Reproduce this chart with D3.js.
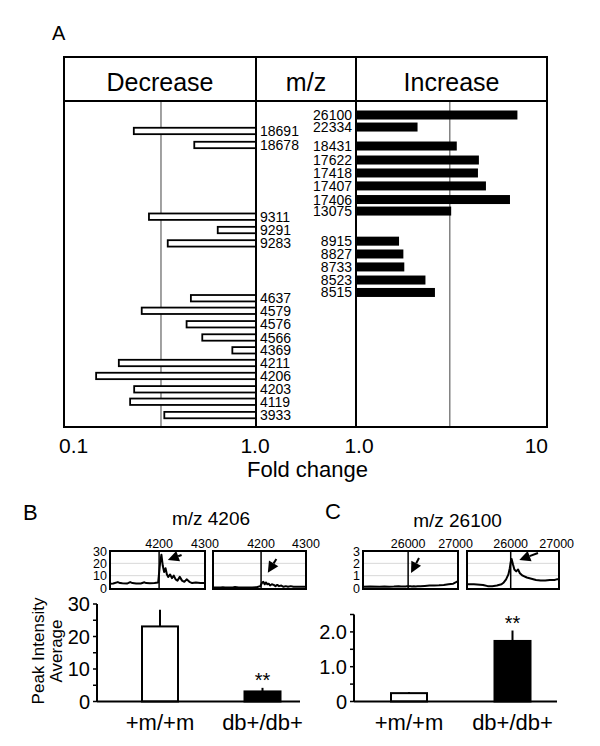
<!DOCTYPE html>
<html><head><meta charset="utf-8">
<script src="https://cdn.jsdelivr.net/npm/d3@7"></script>
<style>body{margin:0;background:#fff} svg{display:block} text{font-family:"Liberation Sans",Arial,sans-serif;fill:#000}</style>
</head><body><svg id="c" width="600" height="746"></svg>
<script>
// ---------- Panel A data ----------
const incLabels = ["26100","22334","18431","17622","17418","17407","17406","13075","8915","8827","8733","8523","8515"];
const incFold   = [7.0, 2.1, 3.37, 4.4, 4.35, 4.79, 6.4, 3.15, 1.68, 1.77, 1.79, 2.31, 2.59];
const incRow    = [0, 0.92, 2.37, 3.44, 4.43, 5.42, 6.46, 7.34, 9.64, 10.62, 11.61, 12.61, 13.56];
const decLabels = ["18691","18678","9311","9291","9283","4637","4579","4576","4566","4369","4211","4206","4203","4119","3933"];
const decFold   = [0.231, 0.477, 0.277, 0.632, 0.347, 0.458, 0.254, 0.435, 0.525, 0.753, 0.193, 0.147, 0.232, 0.221, 0.333];
const decRow    = [1.22, 2.29, 7.77, 8.79, 9.81, 14.0, 14.96, 15.99, 17.0, 17.98, 18.95, 19.94, 20.96, 21.91, 22.93];
const headers   = ["Decrease","m/z","Increase"];
const decTicks  = ["0.1","1.0"];
const incTicks  = ["1.0","10"];
const refLines  = [0.32, 3.1];

// ---------- Panels B / C data ----------
const groups = ["+m/+m","db+/db+"];
const meanB = [23.1, 3.1],  errB = [5.1, 1.1];
const meanC = [0.24, 1.74], errC = [0.03, 0.30];

const mzB = [4093,4100,4110,4115,4120,4130,4137,4142,4150,4160,4168,4172,4180,4190,4198,4202,4205,4208,4211,4214,4217,4220,4224,4228,4232,4236,4240,4245,4250,4255,4260,4266,4272,4280,4290,4300];
const specB_m  = [3.5,3.6,4.8,4.0,3.8,3.6,4.8,4.0,3.6,3.7,4.6,4.0,3.8,4.0,4.5,20,27,18,13,16,11,9,11,8,10,7,6,9,6,5,7,5,4,4.5,4,4];
const specB_db = [0.5,0.5,0.5,0.6,0.5,0.5,0.5,0.9,0.5,0.5,0.5,0.5,0.5,0.6,1.5,4,5,3,4.5,3,3.5,2,3,2.5,1.5,2.5,1.5,2,1,1.5,1,1.5,1,1,1,1];
const mzC = [25050,25200,25400,25500,25600,25700,25800,25850,25900,25950,25980,26000,26020,26050,26080,26120,26160,26200,26260,26350,26450,26550,26650,26750,26850,26950,27000,27050];
const specC_m  = [0.1,0.12,0.1,0.12,0.1,0.12,0.15,0.12,0.13,0.12,0.15,0.12,0.15,0.15,0.13,0.15,0.13,0.15,0.15,0.17,0.2,0.2,0.22,0.25,0.3,0.35,0.45,0.55];
const specC_db = [0.3,0.3,0.25,0.15,0.15,0.2,0.3,0.45,0.7,1.1,1.6,2.1,2.35,1.9,1.5,1.35,1.5,1.2,1.0,0.85,0.75,0.65,0.6,0.6,0.65,0.65,0.7,0.7];

const svg = d3.select("#c");

// ================= Panel A =================
const A = {l:64, r:547, t:57, hb:101, b:427, d1:256, d2:356};
const xDec = d3.scaleLog().domain([0.1,1]).range([A.l, A.d1]);
const xInc = d3.scaleLog().domain([1,10]).range([A.d2, A.r]);
const yRow = d3.scaleLinear().domain([0,23]).range([115,416]);

svg.append("text").attr("x",52).attr("y",39.5).attr("font-size",20).text("A");

svg.append("line").attr("x1",xDec(refLines[0])).attr("x2",xDec(refLines[0])).attr("y1",A.hb).attr("y2",A.b).attr("stroke","#444").attr("stroke-width",1);
svg.append("line").attr("x1",xInc(refLines[1])).attr("x2",xInc(refLines[1])).attr("y1",A.hb).attr("y2",A.b).attr("stroke","#444").attr("stroke-width",1);

const dec = decLabels.map((l,i)=>({l, v:decFold[i], r:decRow[i]}));
svg.append("g").selectAll("rect").data(dec).join("rect")
  .attr("x", d=>xDec(d.v)).attr("width", d=>xDec(1)-xDec(d.v))
  .attr("y", d=>yRow(d.r)-3.2).attr("height",6.4)
  .attr("fill","#fff").attr("stroke","#000").attr("stroke-width",1.8);
svg.append("g").selectAll("text").data(dec).join("text")
  .attr("x", A.d1+4).attr("y", d=>yRow(d.r)).attr("dy","0.36em")
  .attr("font-size",14).text(d=>d.l);

const inc = incLabels.map((l,i)=>({l, v:incFold[i], r:incRow[i]}));
svg.append("g").selectAll("rect").data(inc).join("rect")
  .attr("x", xInc(1)).attr("width", d=>xInc(d.v)-xInc(1))
  .attr("y", d=>yRow(d.r)-4.5).attr("height",9).attr("fill","#000");
svg.append("g").selectAll("text").data(inc).join("text")
  .attr("x", A.d2-4).attr("y", d=>yRow(d.r)).attr("dy","0.36em")
  .attr("text-anchor","end").attr("font-size",14).text(d=>d.l);

const fr = svg.append("g").attr("stroke","#000").attr("stroke-width",2).attr("fill","none");
fr.append("rect").attr("x",A.l).attr("y",A.t).attr("width",A.r-A.l).attr("height",A.b-A.t);
fr.append("line").attr("x1",A.l).attr("x2",A.r).attr("y1",A.hb).attr("y2",A.hb);
fr.append("line").attr("x1",A.d1).attr("x2",A.d1).attr("y1",A.t).attr("y2",A.b);
fr.append("line").attr("x1",A.d2).attr("x2",A.d2).attr("y1",A.t).attr("y2",A.b);

const hx = [(A.l+A.d1)/2, (A.d1+A.d2)/2, (A.d2+A.r)/2];
svg.append("g").selectAll("text").data(headers).join("text")
  .attr("x",(d,i)=>hx[i]).attr("y",91).attr("text-anchor","middle").attr("font-size",25).text(d=>d);

svg.append("text").attr("x",xDec(0.1)-5).attr("y",453).attr("font-size",21).text(decTicks[0]);
svg.append("text").attr("x",xDec(1)-1).attr("y",453).attr("font-size",21).attr("text-anchor","middle").text(decTicks[1]);
svg.append("text").attr("x",xInc(1)+3).attr("y",453).attr("font-size",21).attr("text-anchor","middle").text(incTicks[0]);
svg.append("text").attr("x",xInc(10)+1).attr("y",453).attr("font-size",21).attr("text-anchor","end").text(incTicks[1]);
svg.append("text").attr("x",307.5).attr("y",476.5).attr("font-size",22).attr("text-anchor","middle").text("Fold change");

// ================= Spectra =================
function spectrum(x0,x1,domX,ymax,mz,vals,ticksX,ticksY,grid,lineAt,showY,arrow){
  const y0=551, y1=589;
  const x = d3.scaleLinear().domain(domX).range([x0,x1]);
  const y = d3.scaleLinear().domain([0,ymax]).range([588,551]);
  const g = svg.append("g");
  g.selectAll(".gr").data(grid).join("line").attr("x1",x0).attr("x2",x1)
    .attr("y1",d=>y(d)).attr("y2",d=>y(d)).attr("stroke","#d8d8d8").attr("stroke-width",1);
  const pts = mz.map((m,i)=>[m,vals[i]]);
  g.append("path").datum(pts).attr("d", d3.line().x(d=>x(d[0])).y(d=>y(d[1])))
    .attr("fill","none").attr("stroke","#000").attr("stroke-width",2).attr("stroke-linejoin","round");
  g.append("line").attr("x1",x(lineAt)).attr("x2",x(lineAt)).attr("y1",y0).attr("y2",y1).attr("stroke","#000").attr("stroke-width",1.5);
  g.append("rect").attr("x",x0).attr("y",y0).attr("width",x1-x0).attr("height",y1-y0)
    .attr("fill","none").attr("stroke","#000").attr("stroke-width",2);
  g.selectAll(".tx").data(ticksX).join("text").attr("x",d=>x(d)).attr("y",y0-3)
    .attr("text-anchor","middle").attr("font-size",12.5).text(d=>d);
  if(showY){
    g.selectAll(".ty").data(ticksY).join("text").attr("x",x0-3).attr("y",d=>y(d)).attr("dy","0.36em")
      .attr("text-anchor","end").attr("font-size",12.5).text(d=>d);
  }
  const tx=x(arrow[0]), ty=y(arrow[1]), hx2=x(arrow[2]), hy=y(arrow[3]);
  const dx=hx2-tx, dy=hy-ty, L=Math.hypot(dx,dy), ux=dx/L, uy=dy/L;
  const hl=11, hw=5.5;
  const bx=hx2-ux*hl, by=hy-uy*hl;
  g.append("line").attr("x1",tx).attr("y1",ty).attr("x2",bx).attr("y2",by).attr("stroke","#000").attr("stroke-width",2);
  g.append("path").attr("d",`M${hx2},${hy}L${bx-uy*hw},${by+ux*hw}L${bx+uy*hw},${by-ux*hw}Z`).attr("fill","#000");
}
spectrum(110,205,[4093,4300],30,mzB,specB_m,[4200,4300],[0,10,20,30],[10,20],4200,true,[4249,26.8,4219,22.7]);
spectrum(213,306,[4093,4300],30,mzB,specB_db,[4200,4300],[0,10,20,30],[10,20],4200,false,[4234,23.5,4215,12.4]);
spectrum(363,458,[25050,27050],3,mzC,specC_m,[26000,27000],[0,1,2,3],[1,2],26000,true,[26229,2.43,26061,1.22]);
spectrum(467,559,[25050,27050],3,mzC,specC_db,[26000,27000],[0,1,2,3],[1,2],26000,false,[26593,2.84,26187,2.27]);

svg.append("text").attr("x",23).attr("y",520).attr("font-size",22).text("B");
svg.append("text").attr("x",325).attr("y",519).attr("font-size",22).text("C");
svg.append("text").attr("x",211).attr("y",525).attr("font-size",19).attr("text-anchor","middle").text("m/z 4206");
svg.append("text").attr("x",457.5).attr("y",526.5).attr("font-size",19).attr("text-anchor","middle").text("m/z 26100");

// ================= Bar charts =================
function barChart(axX, endX, centers, yDom, yTop, majors, minors, fmt, means, errs){
  const y = d3.scaleLinear().domain(yDom).range([701.5, yTop]);
  const x = d3.scalePoint().domain(groups).range(centers);
  const g = svg.append("g");
  const bw = 36;
  g.selectAll(".bar").data(groups).join("rect")
    .attr("x",d=>x(d)-bw/2).attr("width",bw)
    .attr("y",(d,i)=>y(means[i])).attr("height",(d,i)=>y(0)-y(means[i]))
    .attr("fill",(d,i)=>i===0?"#fff":"#000").attr("stroke","#000").attr("stroke-width",2);
  g.selectAll(".err").data(groups).join("line")
    .attr("x1",d=>x(d)).attr("x2",d=>x(d))
    .attr("y1",(d,i)=>y(means[i])).attr("y2",(d,i)=>y(means[i]+errs[i]))
    .attr("stroke","#000").attr("stroke-width",2);
  g.append("text").attr("x",x(groups[1])).attr("y",y(means[1]+errs[1])-1)
    .attr("text-anchor","middle").attr("font-size",20).attr("fill","#333").text("**");
  g.append("line").attr("x1",axX).attr("x2",axX).attr("y1",yTop).attr("y2",y(0)).attr("stroke","#000").attr("stroke-width",2);
  g.append("line").attr("x1",axX).attr("x2",endX).attr("y1",y(0)).attr("y2",y(0)).attr("stroke","#000").attr("stroke-width",2);
  g.selectAll(".tk").data(majors.concat(minors)).join("line")
    .attr("x1",axX-4).attr("x2",axX).attr("y1",d=>y(d)).attr("y2",d=>y(d)).attr("stroke","#000").attr("stroke-width",1.5);
  g.selectAll(".tl").data(majors).join("text").attr("x",axX-7).attr("y",d=>y(d)).attr("dy","0.36em")
    .attr("text-anchor","end").attr("font-size",20).text(fmt);
  g.selectAll(".cl").data(groups).join("text").attr("x",d=>x(d)).attr("y",730)
    .attr("text-anchor","middle").attr("font-size",22).text(d=>d);
}
barChart(97,300,[160,262.5],[0,30],604,[0,10,20,30],[5,15,25],d=>d,meanB,errB);
barChart(354,557,[409,512.5],[0,2.5],614.5,[0,1,2],[0.5,1.5,2.5],d=>d===0?"0":d.toFixed(1),meanC,errC);

const yl = svg.append("g").attr("transform","translate(0,651)");
yl.append("text").attr("transform","translate(44,0) rotate(-90)").attr("text-anchor","middle").attr("font-size",17).text("Peak Intensity");
yl.append("text").attr("transform","translate(62,0) rotate(-90)").attr("text-anchor","middle").attr("font-size",17).text("Average");
</script></body></html>
